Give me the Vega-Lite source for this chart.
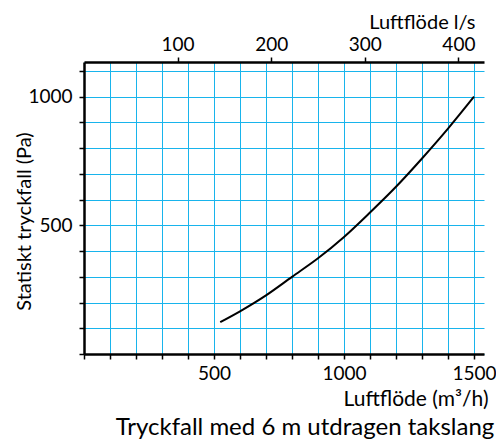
{
  "$schema": "https://vega.github.io/schema/vega-lite/v6.json",
  "width": 400,
  "height": 292,
  "autosize": "none",
  "padding": {"left": 84, "top": 62, "right": 12, "bottom": 87},
  "config": {
    "font": "Lato",
    "view": {"stroke": null},
    "axis": {"gridColor": "#18b4ec", "gridOpacity": 1, "gridWidth": 1}
  },
  "title": {
    "text": "Tryckfall med 6 m utdragen takslang",
    "orient": "bottom", "anchor": "middle", "fontSize": 24, "fontWeight": "normal",
    "font": "Lato", "color": "black", "dx": 21, "offset": 7
  },
  "layer": [
    {
      "data": {
        "values": [
          {"flow": 524, "dp": 124},
          {"flow": 600, "dp": 166},
          {"flow": 700, "dp": 228},
          {"flow": 800, "dp": 300},
          {"flow": 900, "dp": 372},
          {"flow": 1000, "dp": 455},
          {"flow": 1100, "dp": 550},
          {"flow": 1200, "dp": 650},
          {"flow": 1300, "dp": 760},
          {"flow": 1400, "dp": 876},
          {"flow": 1500, "dp": 1000}
        ]
      },
      "mark": {"type": "line", "color": "black", "strokeWidth": 2, "interpolate": "monotone"},
      "encoding": {
        "x": {
          "field": "flow", "type": "quantitative",
          "scale": {"domain": [0, 1538.4615], "nice": false, "zero": false},
          "axis": {
            "orient": "bottom",
            "values": [0, 100, 200, 300, 400, 500, 600, 700, 800, 900, 1000, 1100, 1200, 1300, 1400, 1500],
            "labelExpr": "datum.value % 500 == 0 && datum.value > 0 ? datum.label : ''",
            "format": "d",
            "grid": true, "gridColor": "#18b4ec", "gridWidth": 1, "gridOpacity": 1,
            "domainColor": "black", "domainWidth": 2.5, "tickColor": "black", "tickWidth": 1.5, "tickSize": 5,
            "labelFont": "Lato", "labelFontSize": 19, "labelColor": "black",
            "labelPadding": 5, "labelFlush": false, "labelOverlap": false,
            "title": "Luftflöde (m³/h)", "titleFont": "Lato", "titleFontSize": 21, "titleFontWeight": "normal", "titleColor": "black",
            "titleX": 404, "titleY": 51, "titleAlign": "right", "titleBaseline": "alphabetic"
          }
        },
        "y": {
          "field": "dp", "type": "quantitative",
          "scale": {"domain": [0, 1135], "nice": false, "zero": false},
          "axis": {
            "values": [0, 100, 200, 300, 400, 500, 600, 700, 800, 900, 1000, 1100],
            "labelExpr": "datum.value % 500 == 0 && datum.value > 0 ? datum.label : ''",
            "format": "d",
            "grid": true, "gridColor": "#18b4ec", "gridWidth": 1, "gridOpacity": 1,
            "domainColor": "black", "domainWidth": 2.5, "tickColor": "black", "tickWidth": 1.5, "tickSize": 5,
            "labelFont": "Lato", "labelFontSize": 19, "labelColor": "black",
            "labelPadding": 7, "labelFlush": false, "labelOverlap": false,
            "title": "Statiskt tryckfall (Pa)", "titleFont": "Lato", "titleFontSize": 20, "titleFontWeight": "normal", "titleColor": "black",
            "titleX": -54, "titleY": 159, "titleAngle": -90, "titleAlign": "center", "titleBaseline": "alphabetic"
          }
        }
      }
    },
    {
      "data": {"values": [{"flow": 0}]},
      "mark": {"type": "rule", "strokeOpacity": 0, "opacity": 0, "strokeWidth": 0},
      "encoding": {
        "x": {
          "field": "flow", "type": "quantitative",
          "axis": {
            "orient": "top",
            "values": [360, 720, 1080, 1440],
            "labelExpr": "format(datum.value / 3.6, 'd')",
            "grid": false,
            "domainColor": "black", "domainWidth": 2.5, "tickColor": "black", "tickWidth": 1.5, "tickSize": 5,
            "labelFont": "Lato", "labelFontSize": 19, "labelColor": "black",
            "labelPadding": 3, "labelFlush": false,
            "title": "Luftflöde l/s", "titleFont": "Lato", "titleFontSize": 20, "titleFontWeight": "normal", "titleColor": "black",
            "titleX": 391, "titleY": -34, "titleAlign": "right", "titleBaseline": "alphabetic"
          }
        }
      }
    }
  ],
  "resolve": {"axis": {"x": "independent"}}
}
